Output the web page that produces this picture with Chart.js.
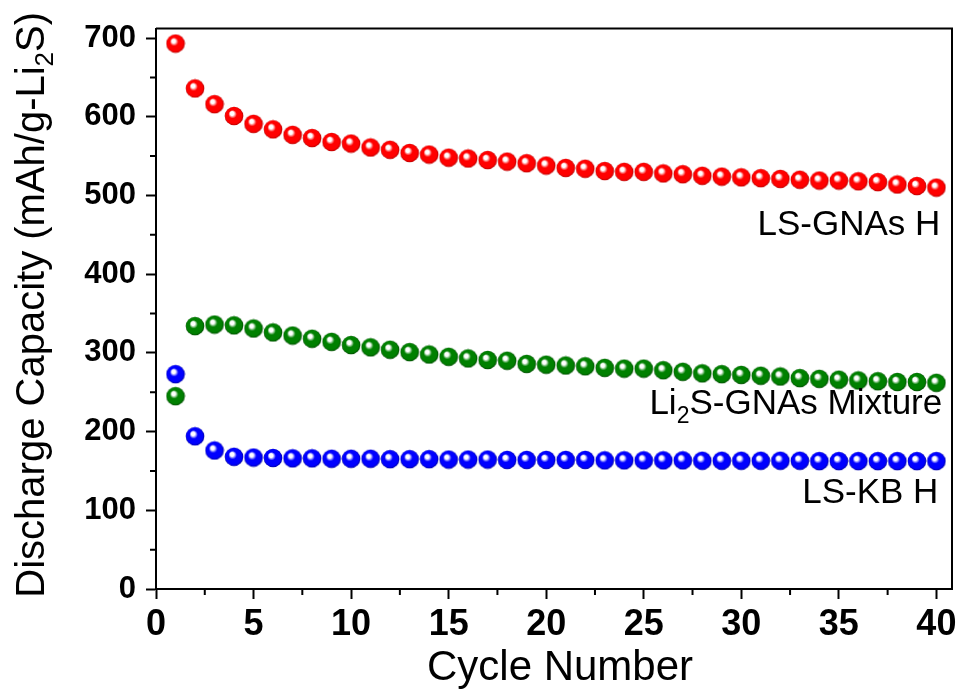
<!DOCTYPE html>
<html>
<head>
<meta charset="utf-8">
<title>Discharge Capacity vs Cycle Number</title>
<script src="https://cdn.jsdelivr.net/npm/chart.js@4.4.1/dist/chart.umd.min.js"></script>
<style>
    html, body { margin: 0; padding: 0; background: #ffffff; }
    #wrap { width: 962px; height: 689px; }
</style>
</head>
<body>
<div id="wrap"><canvas id="capacity-chart" width="962" height="689"></canvas></div>
<script>
// cycle number for every measured point
const cycles = [1, 2, 3, 4, 5, 6, 7, 8, 9, 10,
    11, 12, 13, 14, 15, 16, 17, 18, 19, 20,
    21, 22, 23, 24, 25, 26, 27, 28, 29, 30,
    31, 32, 33, 34, 35, 36, 37, 38, 39, 40];

// discharge capacity, mAh/g-Li2S
const lsGnasH = [693, 636, 616, 601, 591, 584, 577, 573, 568, 566,
    561, 558, 554, 552, 548, 547, 545, 543, 541, 538,
    535, 534, 531, 530, 530, 528, 527, 525, 524, 523,
    522, 521, 520, 519, 519, 518, 517, 514, 512, 510];

const li2sMixture = [245, 334, 336, 335, 331, 326, 322, 318, 314, 310,
    307, 304, 301, 298, 295, 293, 291, 290, 286, 285,
    284, 283, 281, 280, 280, 278, 276, 274, 273, 272,
    271, 270, 268, 267, 266, 265, 264, 263, 263, 262];

const lsKbH = [273, 194, 176, 168, 167, 166.5, 166, 166, 165.5, 165.5,
    165.5, 165, 165, 165, 164.5, 164.5, 164.5, 164, 164, 164,
    164, 164, 163.5, 163.5, 163.5, 163.5, 163.5, 163, 163, 163,
    163, 163, 163, 162.5, 162.5, 162.5, 162.5, 162.5, 162.5, 162.5];

const xTicks = [0, 5, 10, 15, 20, 25, 30, 35, 40];
const yTicks = [0, 100, 200, 300, 400, 500, 600, 700];

// text labels next to each curve: [x, y] in data units, right aligned
const seriesLabels = [
    { parts: [['LS-GNAs H', false]], x: 40.2, y: 450 },
    { parts: [['Li', false], ['2', true], ['S-GNAs Mixture', false]], x: 40.3, y: 222 },
    { parts: [['LS-KB H', false]], x: 40.1, y: 109 }
];

const FONT = "'Liberation Sans', Arial, Helvetica, sans-serif";

// shaded ball used as the point marker
function makeBall(base, dark) {
    const size = 20;
    const c = document.createElement('canvas');
    c.width = size;
    c.height = size;
    const g = c.getContext('2d');
    const grad = g.createRadialGradient(7.6, 7, 0.3, 10, 10, 9.6);
    grad.addColorStop(0, '#ffffff');
    grad.addColorStop(0.18, '#ffffff');
    grad.addColorStop(0.42, base);
    grad.addColorStop(0.82, base);
    grad.addColorStop(1, dark);
    g.fillStyle = grad;
    g.beginPath();
    g.arc(10, 10, 9.3, 0, Math.PI * 2);
    g.fill();
    return c;
}

function toPoints(values) {
    return values.map((v, i) => ({ x: cycles[i], y: v }));
}

// top/right frame, minor ticks and all free text
const decorPlugin = {
    id: 'decor',
    afterDraw(chart) {
        const ctx = chart.ctx;
        const area = chart.chartArea;
        const xs = chart.scales.x;
        const ys = chart.scales.y;

        ctx.save();
        ctx.strokeStyle = '#000';
        ctx.lineWidth = 2;
        ctx.beginPath();
        ctx.moveTo(area.left, area.top);
        ctx.lineTo(area.right, area.top);
        ctx.lineTo(area.right, area.bottom);
        ctx.stroke();

        // minor ticks half way between the labelled ones
        ctx.beginPath();
        for (let i = 0; i < xTicks.length - 1; i++) {
            const px = xs.getPixelForValue((xTicks[i] + xTicks[i + 1]) / 2);
            ctx.moveTo(px, area.bottom);
            ctx.lineTo(px, area.bottom + 6);
        }
        for (let i = 0; i < yTicks.length - 1; i++) {
            const py = ys.getPixelForValue((yTicks[i] + yTicks[i + 1]) / 2);
            ctx.moveTo(area.left, py);
            ctx.lineTo(area.left - 6, py);
        }
        ctx.stroke();

        ctx.fillStyle = '#000';
        ctx.textBaseline = 'alphabetic';

        // curve labels
        seriesLabels.forEach(lbl => {
            const fontFor = sub => (sub ? '23px ' : '35px ') + FONT;
            let total = 0;
            lbl.parts.forEach(p => {
                ctx.font = fontFor(p[1]);
                total += ctx.measureText(p[0]).width;
            });
            let px = xs.getPixelForValue(lbl.x) - total;
            const py = ys.getPixelForValue(lbl.y);
            ctx.textAlign = 'left';
            lbl.parts.forEach(p => {
                ctx.font = fontFor(p[1]);
                ctx.fillText(p[0], px, p[1] ? py + 9 : py);
                px += ctx.measureText(p[0]).width;
            });
        });

        // x axis title
        ctx.font = '42px ' + FONT;
        ctx.textAlign = 'center';
        ctx.fillText('Cycle Number', (area.left + area.right) / 2 + 6, 680);

        // y axis title, rotated, with subscript
        const yParts = [['Discharge Capacity (mAh/g-Li', false], ['2', true], ['S)', false]];
        const yFont = sub => (sub ? '26px ' : '40px ') + FONT;
        let total = 0;
        yParts.forEach(p => {
            ctx.font = yFont(p[1]);
            total += ctx.measureText(p[0]).width;
        });
        ctx.translate(44, (area.top + area.bottom) / 2 - 4);
        ctx.rotate(-Math.PI / 2);
        ctx.textAlign = 'left';
        let tx = -total / 2;
        yParts.forEach(p => {
            ctx.font = yFont(p[1]);
            ctx.fillText(p[0], tx, p[1] ? 9 : 0);
            tx += ctx.measureText(p[0]).width;
        });
        ctx.restore();
    }
};

const ctx = document.getElementById('capacity-chart').getContext('2d');

new Chart(ctx, {
    type: 'scatter',
    data: {
        datasets: [
            {
                label: 'LS-GNAs H',
                data: toPoints(lsGnasH),
                pointStyle: makeBall('#ff0000', '#b00000'),
                pointRadius: 9
            },
            {
                label: 'Li2S-GNAs Mixture',
                data: toPoints(li2sMixture),
                pointStyle: makeBall('#008000', '#004400'),
                pointRadius: 9
            },
            {
                label: 'LS-KB H',
                data: toPoints(lsKbH),
                pointStyle: makeBall('#0000ff', '#00009a'),
                pointRadius: 9
            }
        ]
    },
    options: {
        responsive: false,
        animation: false,
        devicePixelRatio: 1,
        layout: {
            padding: { top: 24, right: 7, left: 0, bottom: 0 }
        },
        plugins: {
            legend: { display: false },
            tooltip: { enabled: false }
        },
        scales: {
            x: {
                type: 'linear',
                min: 0,
                max: 40.8,
                afterBuildTicks: s => { s.ticks = xTicks.map(v => ({ value: v })); },
                afterFit: s => { s.height = 100; },
                border: { display: true, color: '#000', width: 2 },
                grid: {
                    drawOnChartArea: false,
                    drawTicks: true,
                    tickLength: 10,
                    tickWidth: 2,
                    tickColor: '#000'
                },
                ticks: {
                    color: '#000',
                    padding: 4,
                    maxRotation: 0,
                    font: { family: FONT, size: 36, weight: 'bold' }
                }
            },
            y: {
                type: 'linear',
                min: 0,
                max: 712,
                afterBuildTicks: s => { s.ticks = yTicks.map(v => ({ value: v })); },
                afterFit: s => { s.width = 156; },
                border: { display: true, color: '#000', width: 2 },
                grid: {
                    drawOnChartArea: false,
                    drawTicks: true,
                    tickLength: 10,
                    tickWidth: 2,
                    tickColor: '#000'
                },
                ticks: {
                    color: '#000',
                    padding: 10,
                    font: { family: FONT, size: 31, weight: 'bold' }
                }
            }
        }
    },
    plugins: [decorPlugin]
});
</script>
</body>
</html>
